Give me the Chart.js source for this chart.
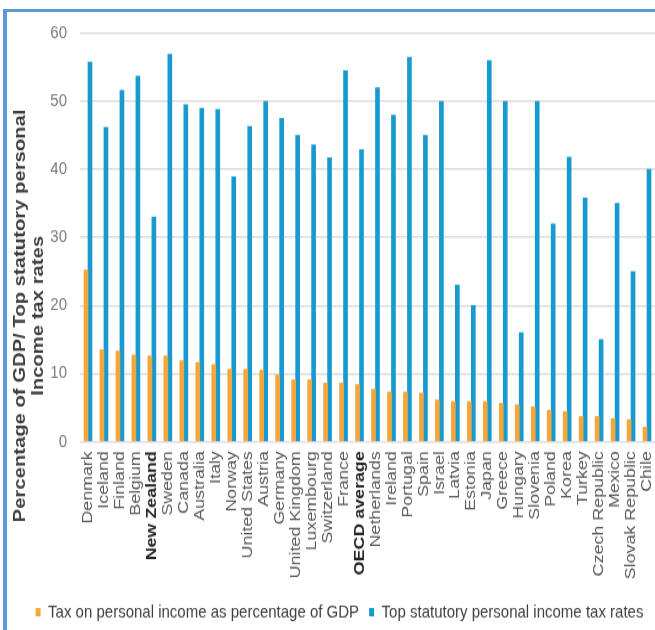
<!DOCTYPE html>
<html>
<head>
<meta charset="utf-8">
<title>Personal income tax</title>
<script src="https://cdn.jsdelivr.net/npm/chart.js@4.4.1/dist/chart.umd.min.js"></script>
<style>
  html, body { margin: 0; padding: 0; background: #ffffff; }
  #wrap { position: relative; width: 655px; height: 630px; overflow: hidden; background: #ffffff; }
  #frame {
    position: absolute; left: 3px; top: 9px; width: 720px; height: 720px;
    border-left: 4px solid #5b9bd5; border-top: 3px solid #5b9bd5; box-sizing: border-box;
  }
  #chart { position: absolute; left: 0; top: 0; }
</style>
</head>
<body>
<div id="wrap">
  <div id="frame"></div>
  <canvas id="chart" width="655" height="531" style="width:655px;height:633px;"></canvas>
</div>
<script>
// Countries, ordered by personal income tax as a share of GDP
const countries = [
  'Denmark', 'Iceland', 'Finland', 'Belgium', 'New Zealand', 'Sweden', 'Canada',
  'Australia', 'Italy', 'Norway', 'United States', 'Austria', 'Germany',
  'United Kingdom', 'Luxembourg', 'Switzerland', 'France', 'OECD average',
  'Netherlands', 'Ireland', 'Portugal', 'Spain', 'Israel', 'Latvia', 'Estonia',
  'Japan', 'Greece', 'Hungary', 'Slovenia', 'Poland', 'Korea', 'Turkey',
  'Czech Republic', 'Mexico', 'Slovak Republic', 'Chile'
];

// Tax on personal income as % of GDP
const taxShareOfGDP = [
  25.2, 13.5, 13.3, 12.7, 12.6, 12.6, 11.9,
  11.6, 11.3, 10.6, 10.6, 10.5, 9.8,
  9.1, 9.1, 8.6, 8.6, 8.4,
  7.7, 7.3, 7.3, 7.1, 6.1, 5.9, 5.9,
  5.9, 5.6, 5.4, 5.1, 4.6, 4.4, 3.7,
  3.7, 3.4, 3.2, 2.1
];

// Top statutory personal income tax rate (%)
const topStatutoryRates = [
  55.8, 46.2, 51.6, 53.7, 33.0, 56.9, 49.5,
  49.0, 48.8, 38.9, 46.3, 50.0, 47.5,
  45.0, 43.6, 41.7, 54.5, 42.9,
  52.0, 48.0, 56.5, 45.0, 50.0, 23.0, 20.0,
  56.0, 50.0, 16.0, 50.0, 32.0, 41.8, 35.8,
  15.0, 35.0, 25.0, 40.0
];

const highlighted = ['New Zealand', 'OECD average'];
const seriesNames = [
  'Tax on personal income as percentage of GDP',
  'Top statutory personal income tax rates'
];
const yAxisTitle = ['Percentage of GDP/ Top statutory personal', 'Income tax rates'];
const yRange = [0, 60];
const yStep = 10;

const FONT = "'Liberation Sans', Arial, Helvetica, sans-serif";

// Two-line rotated title for the value axis
const valueAxisTitle = {
  id: 'valueAxisTitle',
  afterDraw(chart, args, opts) {
    const ctx = chart.ctx;
    ctx.save();
    ctx.font = opts.font;
    ctx.fillStyle = opts.color;
    ctx.textAlign = 'center';
    ctx.textBaseline = 'alphabetic';
    opts.lines.forEach((line, i) => {
      ctx.save();
      ctx.translate(opts.baselineX + i * opts.lineGap, opts.centerY);
      ctx.rotate(-Math.PI / 2);
      ctx.fillText(line, 0, 0);
      ctx.restore();
    });
    ctx.restore();
  }
};

const isHighlighted = (i) => highlighted.includes(countries[i]);

new Chart(document.getElementById('chart'), {
  type: 'bar',
  data: {
    labels: countries,
    datasets: [
      { label: seriesNames[0], data: taxShareOfGDP, backgroundColor: '#f3a73a', barThickness: 4 },
      { label: seriesNames[1], data: topStatutoryRates, backgroundColor: '#1899d0', barThickness: 4 }
    ]
  },
  options: {
    responsive: false,
    maintainAspectRatio: false,
    animation: false,
    devicePixelRatio: 1,
    layout: { padding: { left: 24, right: 0, top: 28, bottom: 0 } },
    scales: {
      x: {
        grid: { display: false, drawTicks: false },
        border: { display: false },
        ticks: {
          autoSkip: false,
          minRotation: 90,
          maxRotation: 90,
          padding: 8,
          font: (c) => ({ family: FONT, size: 15, weight: isHighlighted(c.index) ? 'bold' : 'normal' }),
          color: (c) => isHighlighted(c.index) ? '#262626' : '#595959'
        },
        afterFit: (scale) => {
          scale.height = 125.6;
          // let the plot run to the right edge; the last label fits inside its category
          scale.paddingLeft = 0;
          scale.paddingRight = 0;
        }
      },
      y: {
        min: yRange[0],
        max: yRange[1],
        grid: { color: '#dcdcdc', lineWidth: 1.5, drawTicks: false },
        border: { display: false },
        ticks: {
          stepSize: yStep,
          padding: 13,
          font: { family: FONT, size: 15 },
          color: '#7a7a7a'
        },
        afterFit: (scale) => { scale.width = 56; }
      }
    },
    plugins: {
      legend: {
        position: 'bottom',
        labels: {
          boxWidth: 5,
          boxHeight: 7,
          padding: 10,
          color: '#404040',
          font: { family: FONT, size: 15 }
        }
      },
      tooltip: { enabled: false },
      valueAxisTitle: {
        lines: yAxisTitle,
        font: "bold 17px " + FONT,
        color: '#3f3f3f',
        baselineX: 24.5,
        lineGap: 18,
        centerY: 265
      }
    }
  },
  plugins: [valueAxisTitle]
});
</script>
</body>
</html>
